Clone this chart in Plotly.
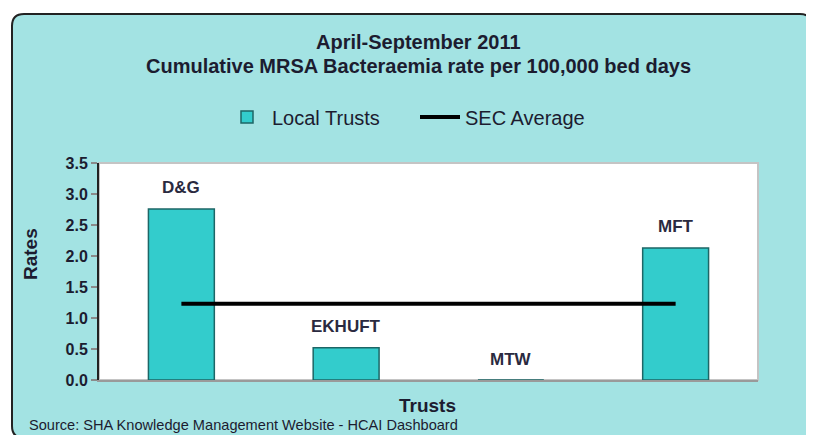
import plotly.graph_objects as go

# ---- data ----
categories = ["D&G", "EKHUFT", "MTW", "MFT"]
rates = [2.76, 0.52, 0.0, 2.13]
sec_average = 1.23
y_ticks = [0.0, 0.5, 1.0, 1.5, 2.0, 2.5, 3.0, 3.5]
y_tick_labels = ["0.0", "0.5", "1.0", "1.5", "2.0", "2.5", "3.0", "3.5"]
title_line1 = "April-September 2011"
title_line2 = "Cumulative MRSA Bacteraemia rate per 100,000 bed days"
source_text = "Source: SHA Knowledge Management Website - HCAI Dashboard"

# ---- layout geometry ----
# reference pixel coords are converted to figure coords (page body has an 8px margin)
OFF = 8
W, H = 814 - OFF, 435 - OFF
PL, PR, PT, PB = 99 - OFF, 758 - OFF, 163 - OFF, 380 - OFF  # plot area in figure px
L, R, T, B = PL, W - PR, PT, H - PB
pw, ph = PR - PL, PB - PT


def px(x):
    return (x - OFF - PL) / pw


def py(y):
    return (PB - (y - OFF)) / ph


FONT = "Liberation Sans, Arial, sans-serif"
TXT = "#1c1c30"

fig = go.Figure()
fig.add_trace(go.Bar(
    x=categories, y=rates, name="Local Trusts", width=0.4,
    marker=dict(color="#33cccc", line=dict(color="#1d6666", width=1.5)),
))
fig.add_trace(go.Scatter(
    x=[categories[0], categories[-1]], y=[sec_average, sec_average],
    mode="lines", name="SEC Average", line=dict(color="black", width=4),
))

# rounded background panel
x0, y0, x1, y1, r = 12, 14, 812, 438, 12
path = (
    f"M {px(x0)},{py(y0 + r)} Q {px(x0)},{py(y0)} {px(x0 + r)},{py(y0)} "
    f"L {px(x1 - r)},{py(y0)} Q {px(x1)},{py(y0)} {px(x1)},{py(y0 + r)} "
    f"L {px(x1)},{py(y1 - r)} Q {px(x1)},{py(y1)} {px(x1 - r)},{py(y1)} "
    f"L {px(x0 + r)},{py(y1)} Q {px(x0)},{py(y1)} {px(x0)},{py(y1 - r)} Z"
)
shapes = [
    dict(type="path", path=path, xref="paper", yref="paper", layer="below",
         fillcolor="#a3e3e3", line=dict(color="#222222", width=2)),
    dict(type="rect", x0=0, x1=1, y0=0, y1=1, xref="paper", yref="paper",
         layer="below", fillcolor="white", line=dict(color="#c4c4c4", width=2)),
]

annotations = [
    dict(text=f"<b>{title_line1}</b>", x=px(418), y=py(42), xref="paper", yref="paper",
         showarrow=False, font=dict(size=20, color=TXT, family=FONT),
         xanchor="center", yanchor="middle"),
    dict(text=f"<b>{title_line2}</b>", x=px(418), y=py(66), xref="paper", yref="paper",
         showarrow=False, font=dict(size=20, color=TXT, family=FONT),
         xanchor="center", yanchor="middle"),
    dict(text="<b>Rates</b>", x=px(30), y=py(254), xref="paper", yref="paper",
         showarrow=False, textangle=-90, font=dict(size=19, color=TXT, family=FONT),
         xanchor="center", yanchor="middle"),
    dict(text="<b>Trusts</b>", x=px(427), y=py(405), xref="paper", yref="paper",
         showarrow=False, font=dict(size=19, color=TXT, family=FONT),
         xanchor="center", yanchor="middle"),
    dict(text=source_text, x=px(27), y=py(425), xref="paper", yref="paper",
         xanchor="left", yanchor="middle", showarrow=False,
         font=dict(size=14.6, color=TXT, family=FONT)),
]
for c, v in zip(categories, rates):
    annotations.append(dict(
        text=f"<b>{c}</b>", x=c, y=v, xref="x", yref="y", yshift=21,
        xanchor="center", yanchor="middle", showarrow=False,
        font=dict(size=17, color="#2a2a40", family=FONT)))

fig.update_layout(
    width=W, height=H, margin=dict(l=L, r=R, t=T, b=B),
    paper_bgcolor="white", plot_bgcolor="rgba(0,0,0,0)",
    font=dict(family=FONT, color=TXT),
    shapes=shapes, annotations=annotations,
    showlegend=True,
    legend=dict(orientation="h", x=px(222), y=py(117), xanchor="left", yanchor="middle",
                bgcolor="rgba(0,0,0,0)", font=dict(size=20, color=TXT, family=FONT),
                itemwidth=40, entrywidth=138, entrywidthmode="pixels",
                traceorder="normal"),
    bargap=0.6,
)
fig.update_xaxes(type="category", range=[-0.5, 3.5], showticklabels=False, ticks="",
                 showline=True, linecolor="#9a9a9a", linewidth=2, showgrid=False,
                 zeroline=False, fixedrange=True)
fig.update_yaxes(range=[0, 3.5], tickvals=y_ticks,
                 ticktext=[f"<b>{t}</b>" for t in y_tick_labels],
                 tickfont=dict(size=16, color=TXT, family=FONT),
                 ticks="outside", ticklen=6, tickwidth=1.5, tickcolor="#8a8a8a",
                 showline=True, linecolor="#222222", linewidth=2,
                 showgrid=False, zeroline=False, fixedrange=True)

fig.write_html("out.html")
